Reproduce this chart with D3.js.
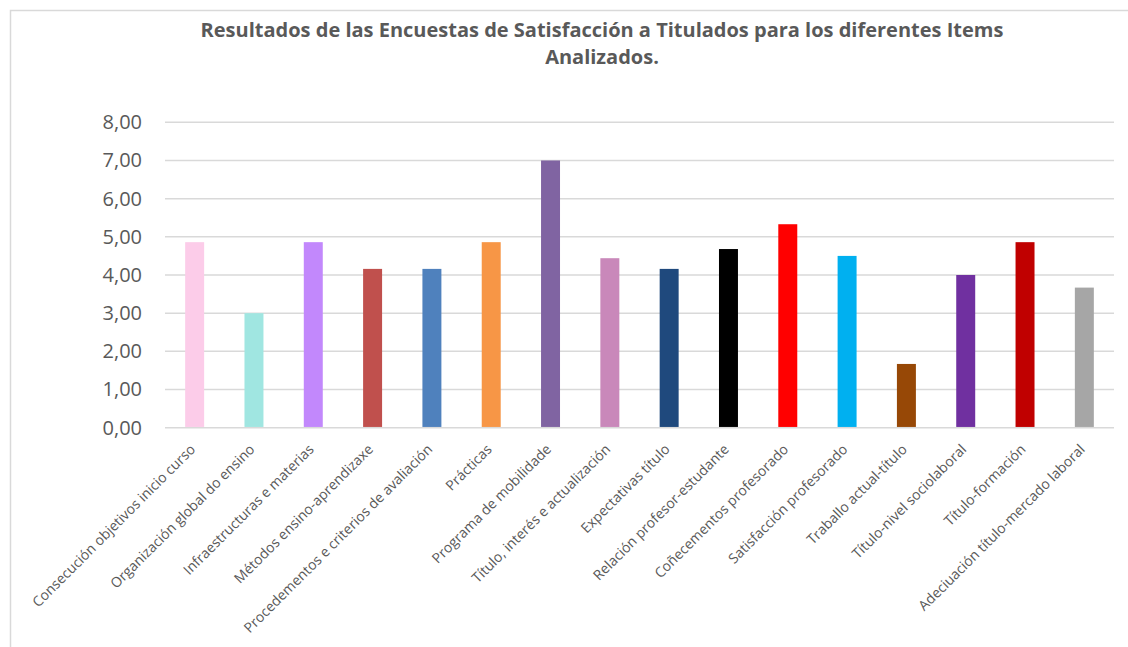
<!DOCTYPE html>
<html>
<head>
<meta charset="utf-8">
<script src="https://cdn.jsdelivr.net/npm/d3@7"></script>
<style>
  body { margin: 0; background: #fff; }
  svg { display: block; }
</style>
</head>
<body>
<div id="viz"></div>
<script>
// chart data
var categories = [
  "Consecución objetivos inicio curso",
  "Organización global do ensino",
  "Infraestructuras e materias",
  "Métodos ensino-aprendizaxe",
  "Procedementos e criterios de avaliación",
  "Prácticas",
  "Programa de mobilidade",
  "Título, interés e actualización",
  "Expectativas título",
  "Relación profesor-estudante",
  "Coñecementos profesorado",
  "Satisfacción profesorado",
  "Traballo actual-título",
  "Título-nivel sociolaboral",
  "Título-formación",
  "Adeciuación título-mercado laboral"
];
var values = [4.86, 3.00, 4.86, 4.16, 4.16, 4.86, 7.00, 4.44, 4.16, 4.68, 5.33, 4.50, 1.67, 4.00, 4.86, 3.67];
var barColors = [
  "#FCCCE9", "#A0E6E1", "#C288FC", "#C0504D", "#4F81BD", "#F79646", "#8064A2", "#C988BA",
  "#1F497D", "#000000", "#FF0000", "#00B0F0", "#974806", "#7030A0", "#C00000", "#A6A6A6"
];
var yTicks = [0, 1, 2, 3, 4, 5, 6, 7, 8];
var titleLines = [
  "Resultados de las Encuestas de Satisfacción a Titulados para los diferentes Items",
  "Analizados."
];

var W = 1128, H = 647;
var plot = { left: 165, right: 1114, top: 122.3, bottom: 427.7 };

var svg = d3.select("#viz")
  .append("svg")
  .attr("width", W)
  .attr("height", H);

// chart frame
svg.append("path")
  .attr("d", "M10.5," + H + "V10.5H" + W)
  .attr("fill", "none")
  .attr("stroke", "#d9d9d9")
  .attr("stroke-width", 1.5);

// title
svg.append("text")
  .attr("x", 602)
  .attr("y", 37)
  .attr("text-anchor", "middle")
  .style("font-family", "'Open Sans', sans-serif")
  .style("font-weight", "bold")
  .style("font-size", "20px")
  .attr("fill", "#595959")
  .selectAll("tspan")
  .data(titleLines)
  .join("tspan")
  .attr("x", 602)
  .attr("dy", (d, i) => i === 0 ? 0 : 27)
  .text(d => d);

// scales
var x = d3.scaleBand()
  .domain(categories)
  .range([plot.left, plot.right])
  .paddingInner(0.68)
  .paddingOuter(0.34);

var y = d3.scaleLinear()
  .domain([0, 8])
  .range([plot.bottom, plot.top]);

// gridlines
svg.append("g")
  .selectAll("line")
  .data(yTicks)
  .join("line")
  .attr("x1", plot.left)
  .attr("x2", plot.right)
  .attr("y1", d => y(d))
  .attr("y2", d => y(d))
  .attr("stroke", "#d9d9d9")
  .attr("stroke-width", 1.5);

// y axis labels
var yAxis = d3.axisLeft(y)
  .tickValues(yTicks)
  .tickSize(0)
  .tickPadding(23)
  .tickFormat(d => d3.format(".2f")(d).replace(".", ","));

svg.append("g")
  .attr("transform", "translate(" + plot.left + ",0)")
  .call(yAxis)
  .call(g => g.select(".domain").remove())
  .call(g => g.selectAll("text")
    .style("font-family", "'Open Sans', sans-serif")
    .style("font-size", "20px")
    .attr("fill", "#595959"));

// bars
svg.append("g")
  .selectAll("rect")
  .data(values)
  .join("rect")
  .attr("x", (d, i) => x(categories[i]))
  .attr("width", x.bandwidth())
  .attr("y", d => y(d))
  .attr("height", d => y(0) - y(d) - 0.75)
  .attr("fill", (d, i) => barColors[i]);

// x axis labels
var xAxis = d3.axisBottom(x).tickSize(0).tickPadding(0);
svg.append("g")
  .attr("transform", "translate(0," + plot.bottom + ")")
  .call(xAxis)
  .call(g => g.select(".domain").remove())
  .call(g => g.selectAll("text")
    .style("font-family", "'Open Sans', sans-serif")
    .style("font-size", "14px")
    .attr("fill", "#595959")
    .attr("text-anchor", "end")
    .attr("dy", "0.35em")
    .attr("transform", "translate(-2,19) rotate(-45)"));
</script>
</body>
</html>
